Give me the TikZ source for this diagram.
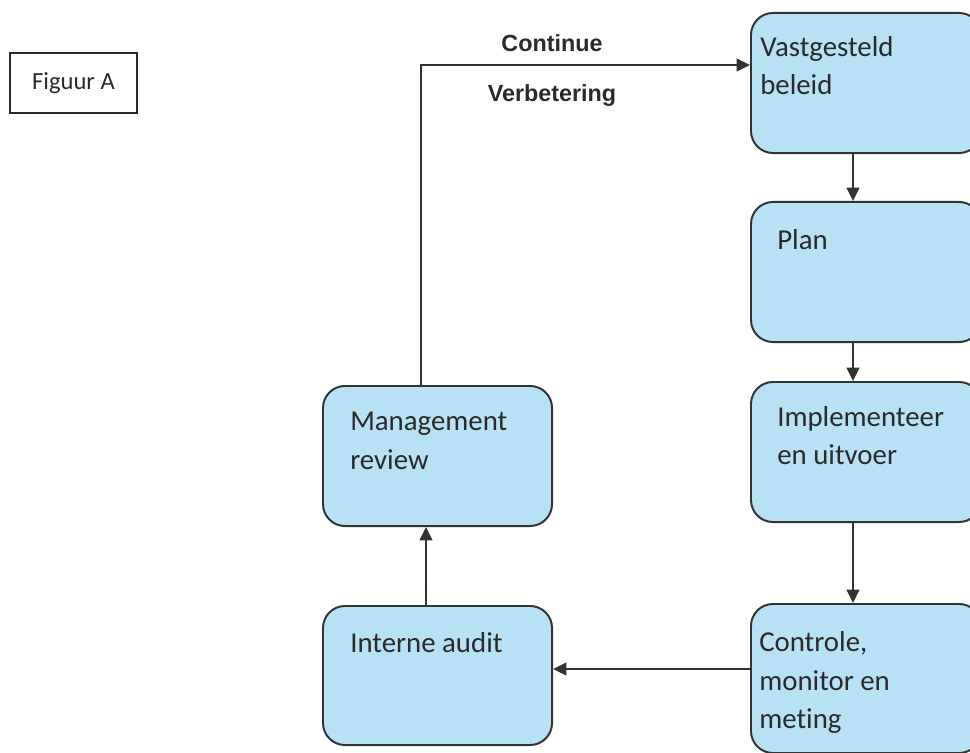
\documentclass[tikz,border=0pt]{standalone}
\usepackage{fontspec}
\setmainfont{Carlito}[Ligatures=NoCommon]
\newfontfamily\arialfont{Liberation Sans}
\usetikzlibrary{arrows.meta}

\begin{document}
\begin{tikzpicture}[x=0.025cm,y=-0.025cm,
  stepbox/.style={draw=boxline,fill=boxfill,line width=1.4pt,rounded corners=0.55cm,
    minimum width=5.75cm,anchor=north west,inner sep=0pt},
  boxtext/.style={font=\fontsize{20.5}{27.2}\selectfont,text=ink,align=left,
    anchor=north west,inner sep=0pt,execute at begin node={\rule{0pt}{16pt}}},
  looplabel/.style={font=\arialfont\bfseries\fontsize{16.6}{20}\selectfont,text=ink,anchor=base,inner sep=0pt},
  figbox/.style={draw=ink,line width=0.8pt,minimum width=3.175cm,minimum height=1.5cm,
    font=\fontsize{17.5}{20}\selectfont,text=ink},
  arr/.style={draw=boxline,line width=1.4pt,-{Triangle[length=9.5pt,width=9pt]}}]
\definecolor{boxfill}{HTML}{B7E2F6}
\definecolor{boxline}{HTML}{333333}
\definecolor{ink}{HTML}{2A2A2A}
\useasboundingbox (0,0) rectangle (970,753);
\clip (0,0) rectangle (970,753);
% title box
\node[figbox] (fig) at (73.5,83) {Figuur A};
% right column
\foreach \nm/\top/\hgt in {beleid/12/3.5,plan/201/3.5,impl/381/3.5,ctrl/603/3.725}
  {\node[stepbox,minimum height=\hgt cm] (\nm) at (750,\top) {};}
% left column
\node[stepbox,minimum width=5.725cm,minimum height=3.5cm] (review) at (322,385) {};
\node[stepbox,minimum width=5.725cm,minimum height=3.475cm] (audit) at (322,605) {};
% texts
\node[boxtext] (beleid-t) at (760,36) {Vastgesteld\\beleid};
\node[boxtext] (plan-t) at (777,227) {Plan};
\node[boxtext] (impl-t) at (777,406) {Implementeer\\en uitvoer};
\node[boxtext] (ctrl-t) at (759,631.5) {Controle,\\monitor en\\meting};
\node[boxtext] (review-t) at (350,412) {Management\\review};
\node[boxtext] (audit-t) at (350,630) {Interne audit};
\node[looplabel] (cont) at (552,52) {Continue};
\node[looplabel] (verb) at (552,102) {Verbetering};
% connectors
\coordinate (colx) at (853,0);
\coordinate (rowy) at (0,669);
\coordinate (upx) at (426,0);
\coordinate (loopx) at (421,0);
\coordinate (loopy) at (0,65);
\draw[arr] (beleid.south -| colx) -- (plan.north -| colx);
\draw[arr] (plan.south -| colx) -- (impl.north -| colx);
\draw[arr] (impl.south -| colx) -- (ctrl.north -| colx);
\draw[arr] (ctrl.west |- rowy) -- (audit.east |- rowy);
\draw[arr] (audit.north -| upx) -- (review.south -| upx);
\draw[arr] (review.north -| loopx) -- (loopx |- loopy) -- (beleid.west |- loopy);
\end{tikzpicture}
\end{document}
